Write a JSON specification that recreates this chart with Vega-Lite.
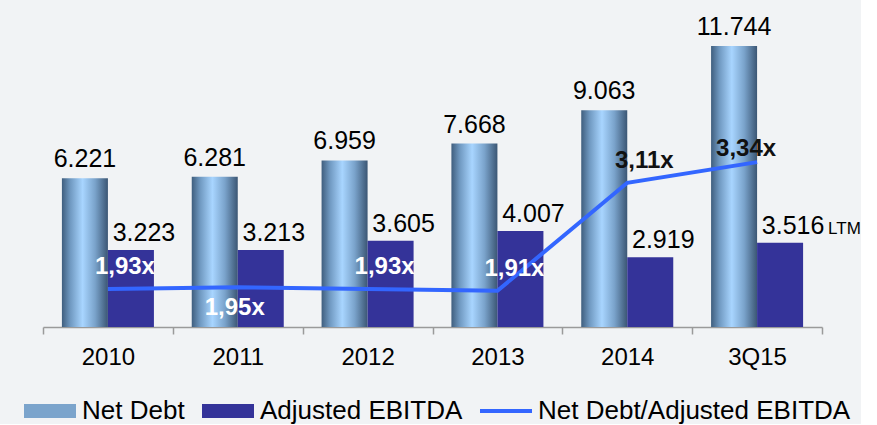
{
  "$schema": "https://vega.github.io/schema/vega-lite/v6.json",
  "width": 779,
  "height": 322,
  "padding": {"left": 24, "top": 5, "right": 0, "bottom": 0},
  "background": "#f1f3f5",
  "config": {
    "view": {"stroke": null},
    "font": "Liberation Sans",
    "locale": {"number": {"decimal": ",", "thousands": ".", "grouping": [3], "currency": ["", ""]}}
  },
  "data": {
    "values": [
      {"year": "2010", "Net Debt": 6221, "Adjusted EBITDA": 3223, "ratio": 1.93, "note": ""},
      {"year": "2011", "Net Debt": 6281, "Adjusted EBITDA": 3213, "ratio": 1.95, "note": ""},
      {"year": "2012", "Net Debt": 6959, "Adjusted EBITDA": 3605, "ratio": 1.93, "note": ""},
      {"year": "2013", "Net Debt": 7668, "Adjusted EBITDA": 4007, "ratio": 1.91, "note": ""},
      {"year": "2014", "Net Debt": 9063, "Adjusted EBITDA": 2919, "ratio": 3.11, "note": ""},
      {"year": "3Q15", "Net Debt": 11744, "Adjusted EBITDA": 3516, "ratio": 3.34, "note": "LTM"}
    ]
  },
  "encoding": {
    "x": {
      "field": "year", "type": "nominal", "sort": null,
      "scale": {"paddingInner": 0, "paddingOuter": 0},
      "axis": {
        "title": null, "labelAngle": 0, "tickBand": "extent", "grid": false,
        "domainColor": "#9a9a9a", "tickColor": "#9a9a9a", "tickSize": 7, "domainWidth": 1.5, "tickWidth": 1.5,
        "labelFontSize": 24, "labelColor": "#000000", "labelPadding": 11, "labelFont": "Liberation Sans"
      }
    }
  },
  "layer": [
    {
      "transform": [{"fold": ["Net Debt", "Adjusted EBITDA"], "as": ["series", "value"]}],
      "encoding": {
        "xOffset": {"field": "series", "type": "nominal", "scale": {"domain": ["Net Debt", "Adjusted EBITDA"], "paddingInner": 0, "paddingOuter": 0.411}},
        "y": {"field": "value", "type": "quantitative", "scale": {"domain": [0, 13457], "nice": false, "zero": true}, "axis": null}
      },
      "layer": [
        {
          "transform": [{"filter": "datum.series === 'Net Debt'"}],
          "mark": {"type": "bar", "fill": {"gradient": "linear", "x1": 0, "x2": 1, "y1": 0, "y2": 0, "stops": [
            {"offset": 0, "color": "#3f5e7e"},
            {"offset": 0.18, "color": "#6f98c0"},
            {"offset": 0.45, "color": "#a8d5ff"},
            {"offset": 0.72, "color": "#7aa3cb"},
            {"offset": 1, "color": "#3b5674"}
          ]}}
        },
        {
          "transform": [{"filter": "datum.series === 'Adjusted EBITDA'"}],
          "mark": {"type": "bar"},
          "encoding": {
            "color": {
              "field": "series", "type": "nominal",
              "scale": {
                "domain": ["Net Debt", "Adjusted EBITDA", "Net Debt/Adjusted EBITDA"],
                "range": ["#7ba4cc", "#343399", "#3366ff"]
              },
              "legend": {
                "orient": "none", "legendX": -19, "legendY": 380,
                "direction": "horizontal", "title": null,
                "symbolSize": 2704, "symbolType": "M-1,-0.27H1V0.27H-1Z",
                "labelFontSize": 26, "labelFont": "Liberation Sans", "labelColor": "#000000",
                "labelOffset": 6, "columnPadding": 17, "padding": 0, "symbolOpacity": 1,
                "labelLimit": 500,
                "encode": {
                  "symbols": {
                    "update": {
                      "shape": {"signal": "datum.value === 'Net Debt/Adjusted EBITDA' ? 'M-1,-0.075H1V0.075H-1Z' : 'M-1,-0.27H1V0.27H-1Z'"},
                      "fill": {"scale": "color", "field": "value"},
                      "strokeWidth": {"value": 0},
                      "opacity": {"value": 1}
                    }
                  }
                }
              }
            }
          }
        },
        {
          "transform": [{"filter": "datum.series === 'Net Debt'"}],
          "mark": {"type": "text", "baseline": "alphabetic", "align": "center", "dy": -11, "fontSize": 25, "color": "#000000"},
          "encoding": {
            "text": {"field": "value", "type": "quantitative", "format": ",d"}
          }
        },
        {
          "transform": [{"filter": "datum.series === 'Adjusted EBITDA'"}],
          "mark": {"type": "text", "baseline": "alphabetic", "align": "center", "dx": 13, "dy": -9, "fontSize": 25, "color": "#000000"},
          "encoding": {
            "text": {"field": "value", "type": "quantitative", "format": ",d"}
          }
        },
        {
          "transform": [{"filter": "datum.series === 'Adjusted EBITDA' && datum.note !== ''"}],
          "mark": {"type": "text", "baseline": "alphabetic", "align": "left", "dx": 48, "dy": -9, "fontSize": 17, "color": "#000000"},
          "encoding": {
            "text": {"field": "note", "type": "nominal"}
          }
        }
      ]
    },
    {
      "mark": {"type": "line", "strokeWidth": 4},
      "encoding": {
        "y": {"field": "ratio", "type": "quantitative", "scale": {"domain": [1.508, 5.086], "nice": false, "zero": false}, "axis": null},
        "color": {"datum": "Net Debt/Adjusted EBITDA", "type": "nominal"}
      }
    },
    {
      "transform": [
        {"filter": "datum.year !== '2011' && datum.year !== '3Q15'"},
        {"calculate": "replace(format(datum.ratio, '.2f'), '.', ',') + 'x'", "as": "rlabel"}
      ],
      "mark": {"type": "text", "fontWeight": "bold", "fontSize": 24, "align": "center", "baseline": "middle", "dx": 17, "dy": -22},
      "encoding": {
        "y": {"field": "ratio", "type": "quantitative", "scale": {"domain": [1.508, 5.086], "nice": false, "zero": false}, "axis": null},
        "text": {"field": "rlabel", "type": "nominal"},
        "color": {"condition": {"test": "datum.ratio > 3", "value": "#111111"}, "value": "#ffffff"}
      }
    },
    {
      "transform": [
        {"filter": "datum.year === '2011'"},
        {"calculate": "replace(format(datum.ratio, '.2f'), '.', ',') + 'x'", "as": "rlabel"}
      ],
      "mark": {"type": "text", "fontWeight": "bold", "fontSize": 24, "align": "center", "baseline": "middle", "dx": -3, "dy": 21, "color": "#ffffff"},
      "encoding": {
        "y": {"field": "ratio", "type": "quantitative", "scale": {"domain": [1.508, 5.086], "nice": false, "zero": false}, "axis": null},
        "text": {"field": "rlabel", "type": "nominal"}
      }
    },
    {
      "transform": [
        {"filter": "datum.year === '3Q15'"},
        {"calculate": "replace(format(datum.ratio, '.2f'), '.', ',') + 'x'", "as": "rlabel"}
      ],
      "mark": {"type": "text", "fontWeight": "bold", "fontSize": 24, "align": "center", "baseline": "middle", "dx": -11, "dy": -13, "color": "#111111"},
      "encoding": {
        "y": {"field": "ratio", "type": "quantitative", "scale": {"domain": [1.508, 5.086], "nice": false, "zero": false}, "axis": null},
        "text": {"field": "rlabel", "type": "nominal"}
      }
    }
  ],
  "resolve": {"scale": {"y": "independent"}}
}
